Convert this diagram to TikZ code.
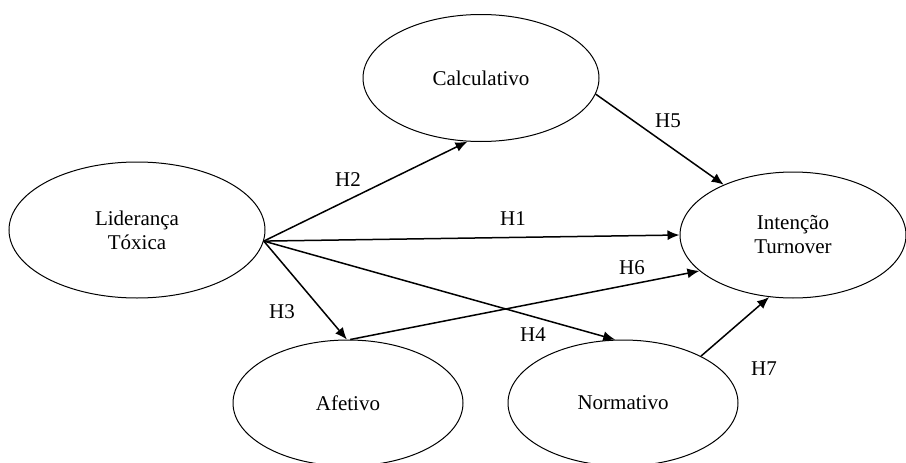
\documentclass[tikz,border=0pt]{standalone}
\usepackage{fontspec}
\setmainfont{Liberation Serif}
\usetikzlibrary{shapes.geometric,arrows.meta}
\begin{document}
\begin{tikzpicture}[x=1pt,y=1pt,
  construct/.style={draw,ellipse,line width=1pt,inner sep=0pt,align=center,
    font=\fontsize{21}{24}\selectfont},
  path/.style={line width=1.5pt,-{Latex[length=12pt,width=10pt]}},
  hlabel/.style={font=\fontsize{21}{24}\selectfont,inner sep=0pt}]
\useasboundingbox (0,0) rectangle (906,-463);
\node[construct,minimum width=256pt,minimum height=136pt] (lt) at (137,-230) {Liderança\\Tóxica};
\node[construct,minimum width=236pt,minimum height=127pt] (calc) at (481,-78) {Calculativo};
\node[construct,minimum width=226pt,minimum height=126pt] (int) at (793,-235) {Intenção\\Turnover};
\node[construct,minimum width=230pt,minimum height=126pt] (af) at (348,-403) {Afetivo};
\node[construct,minimum width=230pt,minimum height=126pt] (nor) at (623,-403) {Normativo};
\draw[path] (lt.-5) -- (calc.-102.5);
\draw[path] (lt.-5) -- (int.180);
\draw[path] (lt.-5) -- (af.91);
\draw[path] (lt.-5) -- (nor.97);
\draw[path] (af.88) -- (int.-159);
\draw[path] (calc.-8.3) -- (int.144.8);
\draw[path] (nor.31.4) -- (int.-111);
\node[hlabel] (l2) at (348,-180) {H2};
\node[hlabel] (l1) at (513,-219) {H1};
\node[hlabel] (l3) at (282,-312) {H3};
\node[hlabel] (l4) at (533,-335) {H4};
\node[hlabel] (l6) at (632,-268) {H6};
\node[hlabel] (l5) at (668,-121) {H5};
\node[hlabel] (l7) at (764,-369) {H7};
\end{tikzpicture}
\end{document}
